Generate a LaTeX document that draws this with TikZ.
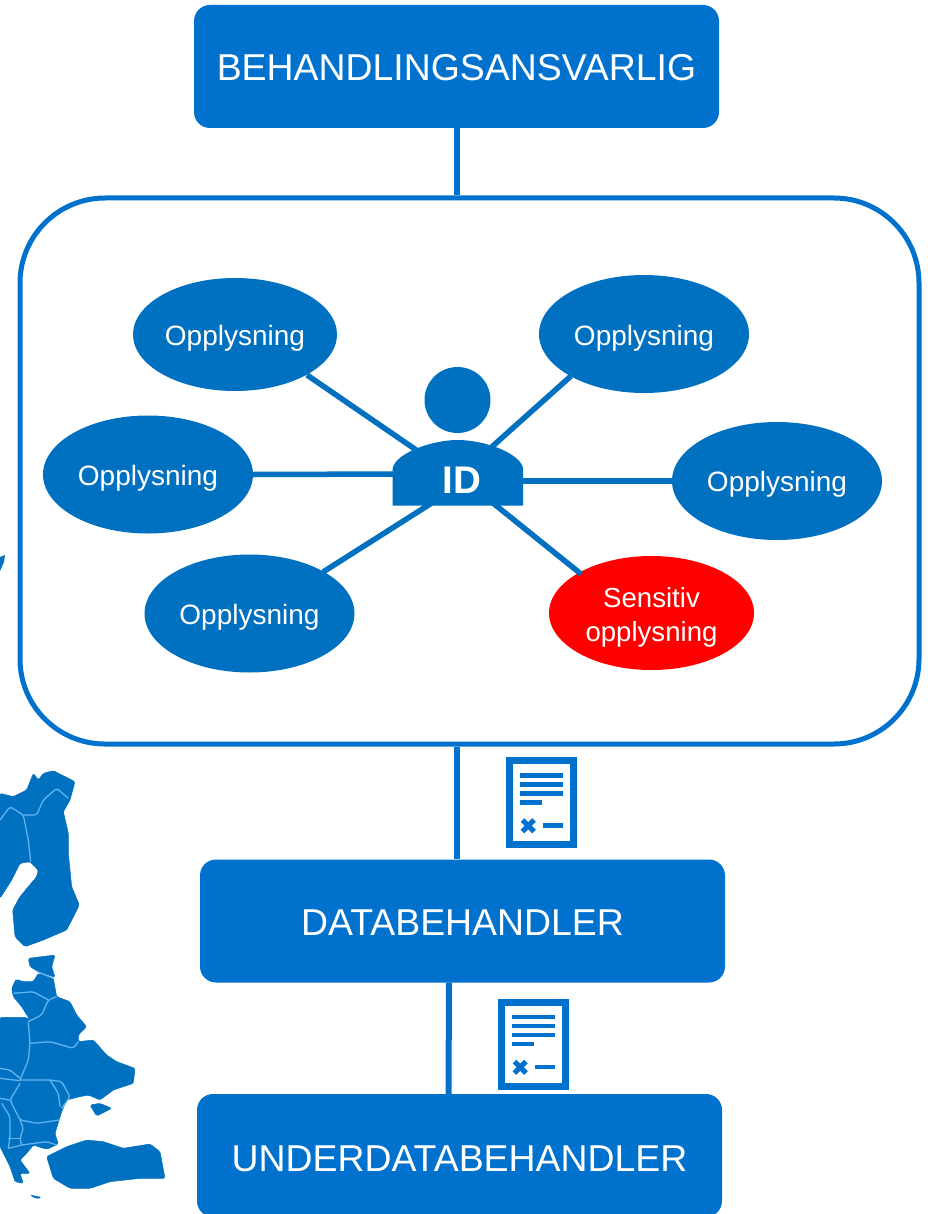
\documentclass[tikz,border=0pt]{standalone}
\usepackage{fontspec}
\setmainfont{Liberation Sans}
\usetikzlibrary{shapes.geometric}
\definecolor{boxblue}{HTML}{0072CE}
\definecolor{ovalblue}{HTML}{0070C0}
\definecolor{redoval}{HTML}{FF0000}
\definecolor{maplines}{HTML}{62B4F0}
\tikzset{
  rolebox/.style={draw=none,fill=boxblue,rounded corners=16pt,minimum width=525pt,minimum height=123pt,inner sep=0pt,text=white,font=\fontsize{37.4}{40}\selectfont},
  oval/.style={ellipse,draw=none,fill=ovalblue,minimum width=210pt,minimum height=118pt,inner sep=0pt,text=white,font=\fontsize{28}{32}\selectfont},
  link/.style={draw=boxblue,line width=6pt},
  spoke/.style={draw=ovalblue,line width=5.5pt},
  maparea/.style={fill=ovalblue,draw=ovalblue,line width=0.5pt,rounded corners=1.5pt},
  mapline/.style={draw=maplines,line width=1.3pt,rounded corners=2pt},
  docline/.style={draw=boxblue,line width=4.5pt},
}
\newcommand{\docicon}[2]{%
  \begin{scope}[shift={(#1,#2)}]
    \draw[boxblue,line width=7pt] (509.5,760.5) rectangle (573.5,844.5);
    \draw[docline] (520,775.5) -- (563,775.5);
    \draw[docline] (520,784.5) -- (563,784.5);
    \draw[docline] (520,793.5) -- (563,793.5);
    \draw[docline] (520,802.5) -- (541.5,802.5);
    \draw[docline,line width=5pt] (522.5,820) -- (534,831.5);
    \draw[docline,line width=5pt] (522.5,831.5) -- (534,820);
    \draw[docline] (543,825.7) -- (563,825.7);
  \end{scope}}
\newcommand{\lowered}[2]{\raisebox{-#1}[\height][\depth]{#2}}
\begin{document}
\begin{tikzpicture}[x=1pt,y=-1pt]
\useasboundingbox (0,0) rectangle (927,1214);
\clip (0,0) rectangle (927,1214);

% map
\begin{scope}[shift={(0,740)},x=0.33333pt,y=-0.33333pt]
  \fill[maparea] (0,160)--(40,170)--(80,150)--(100,100)--(115,120)--(130,100)--(160,92)--(225,125)--(210,180)--(190,215)--(205,280)--(205,340)--(215,440)--(238,495)--(200,570)--(130,600)--(75,620)--(45,590)--(38,510)--(60,470)--(110,410)--(115,390)--(90,365)--(60,370)--(35,420)--(0,475)--cycle;
  \fill[maparea] (85,655)--(165,645)--(155,680)--(165,712)--(115,695)--(90,680)--cycle;
  \fill[maparea] (0,832)--(78,832)--(90,840)--(65,800)--(40,770)--(35,745)--(48,718)--(70,725)--(100,725)--(115,700)--(160,715)--(170,770)--(210,785)--(230,825)--(260,860)--(235,885)--(235,905)--(280,900)--(320,945)--(350,965)--(405,985)--(400,1030)--(340,1050)--(300,1080)--(265,1065)--(240,1070)--(200,1080)--(185,1115)--(165,1180)--(175,1212)--(140,1228)--(100,1215)--(80,1240)--(60,1260)--(90,1300)--(60,1300)--(70,1330)--(45,1325)--(30,1280)--(10,1240)--(0,1220)--cycle;
  \fill[maparea] (270,1095)--(300,1090)--(335,1105)--(290,1128)--cycle;
  \fill[maparea] (140,1250)--(200,1220)--(260,1200)--(310,1205)--(370,1225)--(450,1212)--(480,1235)--(495,1315)--(420,1315)--(330,1325)--(270,1345)--(210,1345)--(160,1315)--cycle;
  \fill[maparea] (90,1365)--(125,1372)--(110,1376)--cycle;
  \draw[mapline] (0,240)--(30,200)--(70,225)--(85,300)--(92,365);
  \draw[mapline] (70,225)--(110,225)--(130,180)--(170,145)--(205,175);
  \draw[mapline] (112,695)--(160,715);
  \draw[mapline] (40,760)--(100,755)--(145,780);
  \draw[mapline] (170,770)--(145,780)--(125,825)--(85,845);
  \draw[mapline] (85,845)--(90,910)--(85,960)--(60,1020);
  \draw[mapline] (90,910)--(150,905)--(220,925)--(235,905);
  \draw[mapline] (60,1020)--(150,1020)--(185,1025)--(210,1070)--(185,1105);
  \draw[mapline] (150,1020)--(175,1060)--(180,1100);
  \draw[mapline] (60,1030)--(30,1080)--(60,1140)--(110,1150)--(178,1140);
  \draw[mapline] (0,985)--(30,990)--(60,1015);
  \draw[mapline] (0,1015)--(60,1022);
  \draw[mapline] (0,1075)--(30,1080);
  \draw[mapline] (5,1090)--(30,1130)--(30,1190)--(25,1225);
  \draw[mapline] (60,1140)--(70,1165)--(60,1195)--(65,1215);
  \draw[mapline] (65,1215)--(140,1205)--(170,1215);
  \draw[mapline] (25,1195)--(60,1195);
  \draw[mapline] (25,1225)--(65,1215);
\end{scope}
\fill[ovalblue] (0,557)--(5,555)--(4,562)--(0,571)--cycle;

% role boxes
\node[rolebox] (ansvar) at (456.5,66.5) {\lowered{1.5pt}{BEHANDLINGSANSVARLIG}};
\node[rolebox] (data) at (462.5,921) {\lowered{2pt}{DATABEHANDLER}};
\node[rolebox] (under) at (459.5,1155.5) {\lowered{3pt}{UNDERDATABEHANDLER}};

% frame
\node[draw=boxblue,line width=5pt,fill=white,rounded corners=85pt,minimum width=899pt,minimum height=546pt,inner sep=0pt] (frame) at (469.5,471) {};

% connectors between boxes
\draw[link] (ansvar.south) -- (frame.north -| ansvar.south);
\draw[link] (frame.south -| ansvar.south) -- ([xshift=-6pt]data.north);
\draw[link] ([xshift=-13.5pt]data.south) -- ([xshift=-11pt]under.north);

% ovals
\node[oval,minimum width=204pt,minimum height=113pt] (o1) at (235,334.5) {\lowered{4pt}{Opplysning}};
\node[oval] (o2) at (644,334) {\lowered{4pt}{Opplysning}};
\node[oval] (o3) at (148,474.5) {\lowered{4pt}{Opplysning}};
\node[oval] (o4) at (777,481) {\lowered{3.5pt}{Opplysning}};
\node[oval] (o5) at (249.5,613.5) {\lowered{4pt}{Opplysning}};
\node[oval,fill=redoval,minimum width=205pt,minimum height=114pt,font=\fontsize{27.6}{34}\selectfont,align=center] (o6) at (651.5,613) {\lowered{4pt}{Sensitiv}\\\lowered{4pt}{opplysning}};

% person
\coordinate (hub) at (457,478);
\coordinate (hubL) at (400,474);
\coordinate (hubR) at (515,481);
\coordinate (hubB) at (457,487);
\coordinate (hubC) at (457,474);
\draw[spoke] (o1) ++(72,40.5) -- (hub);
\draw[spoke] (o2) ++(-73,42) -- (hub);
\draw[spoke] (o3.east) -- (hubL);
\draw[spoke] (o4.west) -- (hubR);
\draw[spoke] (o5) ++(73.5,-41.5) -- (hubB);
\draw[spoke] (o6) ++(-70.5,-39) -- (hubC);
\node[circle,fill=ovalblue,minimum size=66pt,inner sep=0pt] (head) at (457.5,400) {};
\fill[ovalblue] (392.7,505.5) -- (392.7,468) .. controls (396,453) and (432,440) .. (457.8,440) .. controls (484,440) and (520,453) .. (523,468) -- (523,505.5) -- cycle;
\node[text=white,font=\bfseries\fontsize{38.5}{40}\selectfont,inner sep=0pt] (id) at (462,480.5) {ID};

% documents
\docicon{0}{0}
\docicon{-8}{241.5}
\end{tikzpicture}
\end{document}
